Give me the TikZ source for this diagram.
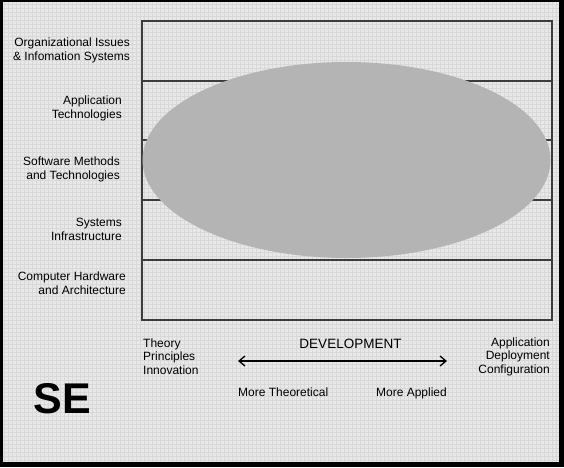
\documentclass[tikz,border=0pt]{standalone}
\usepackage{fontspec}
\setmainfont{Liberation Sans}
\usetikzlibrary{arrows.meta}
\definecolor{bgc}{HTML}{E8E8E8}
\definecolor{gridc}{HTML}{D8D8D8}
\definecolor{ellc}{HTML}{B4B4B4}
\definecolor{linec}{HTML}{3C3C3C}
\tikzset{
  lbl/.style={inner sep=0pt, font=\fontsize{12}{14}\selectfont, text=black},
  rlbl/.style={lbl, align=right, anchor=east},
  llbl/.style={lbl, align=left, anchor=west},
  boxline/.style={draw=linec, line width=1.2pt},
}
\begin{document}
\begin{tikzpicture}[x=1pt,y=-1pt]
\useasboundingbox (0,0) rectangle (564,467);
% background with fine grid
\fill[bgc] (0,0) rectangle (564,467);
\draw[gridc, line width=0.7pt, step=4pt] (0,0) grid (564,467);
% outer frame
\fill[black] (0,0) rectangle (3,467);
\fill[black] (0,0) rectangle (564,1.5);
\fill[black] (558.5,0) rectangle (564,467);
\fill[black] (0,461.5) rectangle (564,467);
% main box and bands
\draw[boxline] (142,21) rectangle (552,320);
\foreach \yy in {81,140,200,260}{
  \draw[boxline] (142,\yy) -- (552,\yy);
}
% ellipse
\fill[ellc] (346.5,160) ellipse [x radius=204, y radius=98];
% row labels
\node[rlbl] (org) at (130,50.5) {Organizational Issues\\\& Infomation Systems};
\node[rlbl] (app) at (122,108.5) {Application\\Technologies};
\node[rlbl] (sw) at (120,169.5) {Software Methods\\and Technologies};
\node[rlbl] (sys) at (122,229.5) {Systems\\Infrastructure};
\node[rlbl] (hw) at (126,283) {Computer Hardware\\and Architecture};
% bottom labels
\node[llbl, font=\fontsize{12}{13.5}\selectfont] (theory) at (143,356.5) {Theory\\Principles\\Innovation};
\node[rlbl, font=\fontsize{12}{13.5}\selectfont] (applied) at (550,356.5) {Application\\Deployment\\Configuration};
\node[lbl, font=\fontsize{13.5}{15}\selectfont, anchor=base] (dev) at (350.5,348) {DEVELOPMENT};
\coordinate (al) at (238,361);
\coordinate (ar) at (447,361);
\draw[line width=1.3pt, {Straight Barb[length=6pt,width=10pt]}-{Straight Barb[length=6pt,width=10pt]}] (al) -- (ar);
\node[lbl, anchor=base west] (mt) at (238,396.5) {More Theoretical};
\node[lbl, anchor=base east] (ma) at (447,396.5) {More Applied};
% SE
\node[inner sep=0pt, font=\fontsize{43}{43}\bfseries\selectfont] (se) at (62.5,398.5) {SE};
\end{tikzpicture}
\end{document}
